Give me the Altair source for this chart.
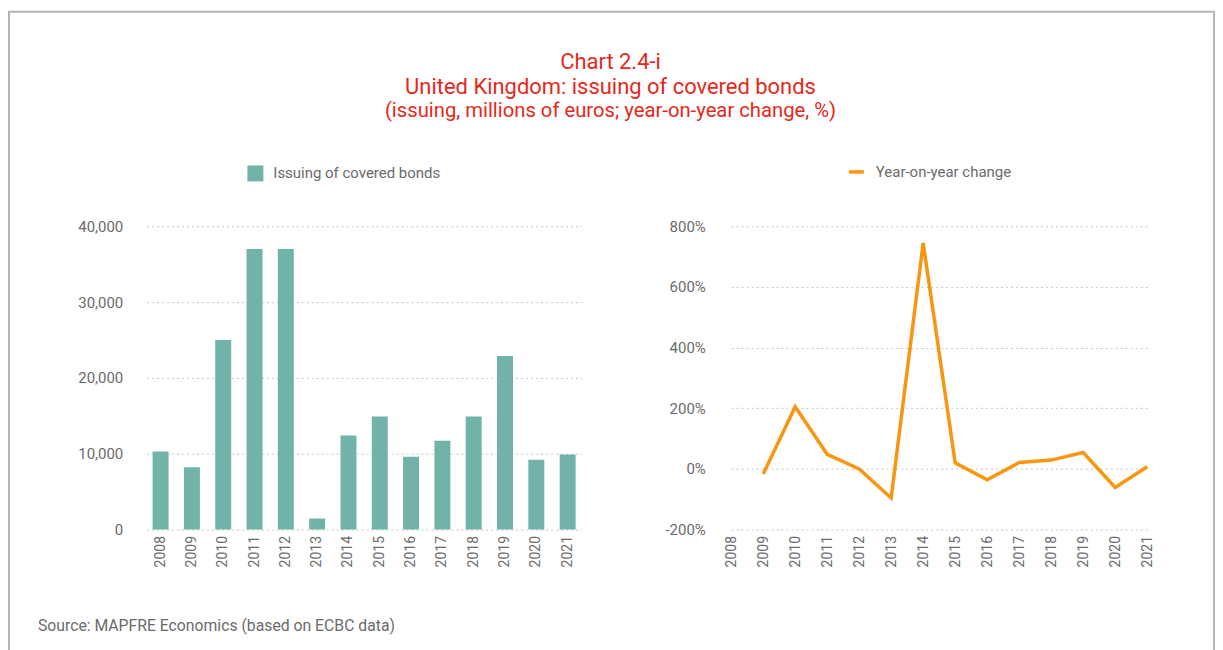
import altair as alt
import pandas as pd

years = [str(y) for y in range(2008, 2022)]
issuing = [10300, 8200, 25000, 37000, 37000, 1450, 12400, 14900, 9600, 11700, 14900, 22900, 9200, 9900]
yoy_years = [str(y) for y in range(2009, 2022)]
yoy_change = [-17, 205, 48, 0, -96, 745, 20, -36, 21, 29, 54, -61, 7]

title_line1 = "Chart 2.4-i"
title_line2 = "United Kingdom: issuing of covered bonds"
title_line3 = "(issuing, millions of euros; year-on-year change, %)"
source_text = "Source: MAPFRE Economics (based on ECBC data)"
bar_series = "Issuing of covered bonds"
line_series = "Year-on-year change"

FONT = "Roboto"
RED = "#e5281a"
GRAY = "#6b6b6b"
TEAL = "#71b2a9"
ORANGE = "#f7960f"
GRID = "#c4c4c4"

bars_df = pd.DataFrame({"year": years, "value": issuing, "series": bar_series})
line_df = pd.DataFrame({"year": yoy_years, "value": yoy_change, "series": line_series})

common_y_axis = dict(
    grid=True, gridDash=[2, 3], gridColor=GRID, gridWidth=1,
    domain=False, ticks=False, labelFont=FONT, labelFontSize=15,
    labelColor=GRAY, title=None,
)
common_x_axis = dict(
    grid=False, domain=False, ticks=False, labelAngle=270, labelFont=FONT,
    labelFontSize=14, labelColor=GRAY, labelPadding=6, title=None,
)

bars = alt.Chart(bars_df).mark_bar(color=TEAL).encode(
    x=alt.X("year:O", scale=alt.Scale(domain=years, paddingInner=0.49, paddingOuter=0.19),
            axis=alt.Axis(**common_x_axis)),
    y=alt.Y("value:Q", scale=alt.Scale(domain=[0, 40000], nice=False),
            axis=alt.Axis(values=[0, 10000, 20000, 30000, 40000],
                          labelExpr="format(datum.value, ',')",
                          labelPadding=24, **common_y_axis)),
    color=alt.Color("series:N", scale=alt.Scale(domain=[bar_series], range=[TEAL]),
                    legend=alt.Legend(orient="none", legendX=101, legendY=-61, title=None,
                                      symbolType="square", symbolSize=256, symbolStrokeWidth=0,
                                      labelFont=FONT, labelFontSize=15, labelColor=GRAY,
                                      labelOffset=10, labelLimit=400, padding=0)),
)

t1 = alt.Chart(pd.DataFrame({"t": [title_line1]})).mark_text(
    font=FONT, fontSize=22, fontWeight="normal", color=RED, align="center", baseline="middle"
).encode(x=alt.value(465), y=alt.value(-165), text="t:N")
t2 = alt.Chart(pd.DataFrame({"t": [title_line2]})).mark_text(
    font=FONT, fontSize=22, fontWeight="normal", color=RED, align="center", baseline="middle"
).encode(x=alt.value(465), y=alt.value(-140), text="t:N")
t3 = alt.Chart(pd.DataFrame({"t": [title_line3]})).mark_text(
    font=FONT, fontSize=20.3, fontWeight="normal", color=RED, align="center", baseline="middle"
).encode(x=alt.value(465), y=alt.value(-116), text="t:N")
src = alt.Chart(pd.DataFrame({"t": [source_text]})).mark_text(
    font=FONT, fontSize=15.8, color=GRAY, align="left", baseline="middle"
).encode(x=alt.value(-109), y=alt.value(401), text="t:N")
frame = alt.Chart(pd.DataFrame({"f": [0]})).mark_rect(
    filled=False, stroke="#b5b5b5", strokeWidth=2
).encode(x=alt.value(-138), x2=alt.value(1070), y=alt.value(-215), y2=alt.value(440))

left = alt.layer(frame, bars, t1, t2, t3, src).properties(width=436, height=304)

line = alt.Chart(line_df).mark_line(strokeWidth=3.5, color=ORANGE).encode(
    x=alt.X("year:O", scale=alt.Scale(domain=years, padding=0),
            axis=alt.Axis(**common_x_axis)),
    y=alt.Y("value:Q", scale=alt.Scale(domain=[-200, 800], nice=False),
            axis=alt.Axis(values=[-200, 0, 200, 400, 600, 800],
                          labelExpr="datum.value + '%'", labelPadding=26, **common_y_axis)),
    color=alt.Color("series:N", scale=alt.Scale(domain=[line_series], range=[ORANGE]),
                    legend=alt.Legend(orient="none", legendX=116, legendY=-64, title=None,
                                      symbolType="stroke", symbolSize=225, symbolStrokeWidth=3.5,
                                      labelFont=FONT, labelFontSize=15, labelColor=GRAY,
                                      labelOffset=10, labelLimit=400, padding=0)),
).properties(width=417, height=304)

chart = alt.hconcat(left, line, spacing=150, bounds="flush").resolve_scale(
    color="independent", x="independent", y="independent"
).properties(
    padding={"left": 0, "top": 2, "right": 0, "bottom": 0},
    background="white",
).configure_view(stroke=None)

chart.save("out.html", embed_options={"renderer": "svg", "actions": False})
